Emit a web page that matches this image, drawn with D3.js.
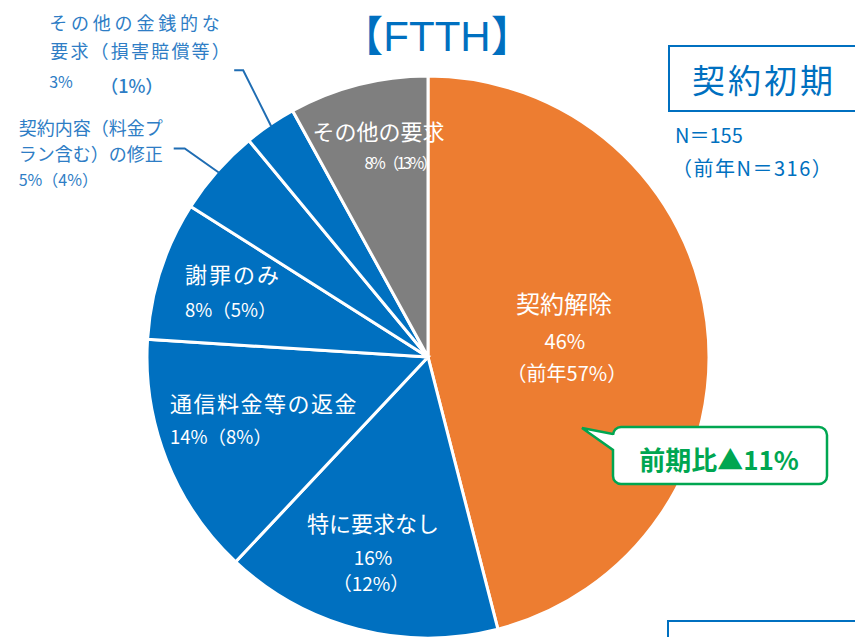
<!DOCTYPE html>
<html>
<head>
<meta charset="utf-8">
<script src="https://cdn.jsdelivr.net/npm/d3@7"></script>
<style>
  body { margin: 0; background: #fff; }
  svg { display: block; font-family: "Noto Sans CJK JP", "Noto Sans", sans-serif; }
</style>
</head>
<body>
<div class="js-pie"></div>
<script>
// data
const categories = [
  ["契約解除"],
  ["特に要求なし"],
  ["通信料金等の返金"],
  ["謝罪のみ"],
  ["契約内容（料金プ", "ラン含む）の修正"],
  ["その他の金銭的な", "要求（損害賠償等）"],
  ["その他の要求"]
];
const shares = [46, 16, 14, 8, 5, 3, 8];
const prevShares = [57, 12, 8, 5, 4, 1, 13];
const colors = ["#ED7D31", "#0070C0", "#0070C0", "#0070C0", "#0070C0", "#0070C0", "#7F7F7F"];

const title = "【FTTH】";
const period = "契約初期";
const nNow = 155, nPrev = 316;
const diffText = "前期比▲11%";

let width = 855, height = 637;
let cx = 428, cy = 357, radius = 281;

let svg = d3.select(".js-pie").append("svg")
    .attr("width", width)
    .attr("height", height);

let pie = d3.pie().sort(null).value(d => d);
let arc = d3.arc().innerRadius(0).outerRadius(radius);
let arcs = pie(shares);

let g = svg.append("g").attr("transform", "translate(" + cx + "," + cy + ")");

g.selectAll("path")
    .data(arcs)
    .join("path")
    .attr("fill", (d, i) => colors[i])
    .attr("stroke", "#fff")
    .attr("stroke-width", 3)
    .attr("d", arc);

// point on a ray at the middle of a slice
function polar(d, r) {
    let a = (d.startAngle + d.endAngle) / 2;
    return [r * Math.sin(a), -r * Math.cos(a)];
}

// inside labels: radius of anchor, and lines relative to it
let inner = [
  {i: 0, r: 137, lines: [
      {t: categories[0][0], size: 24, dx: 0, dy: -27, anchor: "middle"},
      {t: shares[0] + "%", size: 20, dx: 1, dy: 9, anchor: "middle"},
      {t: "（前年" + prevShares[0] + "%）", size: 20, dx: 3, dy: 41, anchor: "middle"}]},
  {i: 1, r: 205, lines: [
      {t: categories[1][0], size: 22, dx: -4, dy: -24, anchor: "middle"},
      {t: shares[1] + "%", size: 19, dx: -4, dy: 9, anchor: "middle"},
      {t: "（" + prevShares[1] + "%）", size: 19, dx: -6, dy: 35, anchor: "middle"}]},
  {i: 2, r: 171, lines: [
      {t: categories[2][0], size: 22, dx: -99, dy: -8, anchor: "start", ls: 1.5},
      {t: shares[2] + "%（" + prevShares[2] + "%）", size: 18.5, dx: -99, dy: 24, anchor: "start"}]},
  {i: 3, r: 204, lines: [
      {t: categories[3][0], size: 22, dx: -49, dy: -11, anchor: "start", ls: 2},
      {t: shares[3] + "%（" + prevShares[3] + "%）", size: 18.5, dx: -49, dy: 23, anchor: "start"}]},
  {i: 6, r: 223, lines: [
      {t: categories[6][0], size: 22, dx: 6, dy: -1, anchor: "middle"},
      {t: shares[6] + "%（" + prevShares[6] + "%）", size: 16, dx: -8, dy: 28, anchor: "start", ls: -2.5}]}
];

inner.forEach(lab => {
    let p = polar(arcs[lab.i], lab.r);
    lab.lines.forEach(l => {
        g.append("text")
            .attr("x", p[0] + l.dx)
            .attr("y", p[1] + l.dy)
            .attr("text-anchor", l.anchor)
            .attr("font-size", l.size)
            .attr("letter-spacing", l.ls || 0)
            .attr("fill", "#fff")
            .text(l.t);
    });
});

// outside labels with leader lines
let outer = [
  {i: 5, elbow: [-28, -56], tail: -9, lines: [
      {t: categories[5][0], size: 18, x: -194, y: -40, ls: 3.8},
      {t: categories[5][1], size: 18, x: -193, y: -12, ls: 2.2},
      {t: shares[5] + "%", size: 16, x: -194, y: 18},
      {t: "（" + prevShares[5] + "%）", size: 18, x: -143, y: 23, bold: true}]},
  {i: 4, elbow: [-34, -24], tail: -11, lines: [
      {t: categories[4][0], size: 18, x: -166, y: -14},
      {t: categories[4][1], size: 18, x: -166, y: 12},
      {t: shares[4] + "%（" + prevShares[4] + "%）", size: 16, x: -166, y: 37}]}
];

outer.forEach(lab => {
    let p = polar(arcs[lab.i], radius - 2);
    let e = [p[0] + lab.elbow[0], p[1] + lab.elbow[1]];
    g.append("polyline")
        .attr("points", [p, e, [e[0] + lab.tail, e[1]]].map(q => q.join(",")).join(" "))
        .attr("fill", "none")
        .attr("stroke", "#1F6DB3")
        .attr("stroke-width", 2);
    lab.lines.forEach(l => {
        g.append("text")
            .attr("x", e[0] + l.x)
            .attr("y", e[1] + l.y)
            .attr("font-size", l.size)
            .attr("letter-spacing", l.ls || 0)
            .attr("font-weight", l.bold ? 500 : 400)
            .attr("fill", "#2E7DC5")
            .text(l.t);
    });
});

// title
svg.append("text")
    .attr("x", 437).attr("y", 51)
    .attr("text-anchor", "middle")
    .attr("font-size", 42)
    .attr("font-family", "'Liberation Sans', 'Noto Sans CJK JP', sans-serif")
    .attr("fill", "#0070C0")
    .text(title);

// period box
svg.append("rect")
    .attr("x", 669).attr("y", 46)
    .attr("width", 200).attr("height", 65)
    .attr("fill", "#fff")
    .attr("stroke", "#0070C0")
    .attr("stroke-width", 2);
svg.append("text")
    .attr("x", 692).attr("y", 93)
    .attr("font-size", 33)
    .attr("letter-spacing", 3)
    .attr("fill", "#0070C0")
    .text(period);

svg.append("text")
    .attr("x", 675).attr("y", 143)
    .attr("font-size", 20)
    .attr("fill", "#0070C0")
    .text("N＝" + nNow);
svg.append("text")
    .attr("x", 672).attr("y", 176)
    .attr("font-size", 20)
    .attr("letter-spacing", 1.5)
    .attr("fill", "#0070C0")
    .text("（前年N＝" + nPrev + "）");

// callout
let bx = 613, by = 427, bw = 214, bh = 57, br = 8;
let cp = d3.path();
cp.moveTo(bx + br, by);
cp.lineTo(bx + bw - br, by);
cp.arcTo(bx + bw, by, bx + bw, by + br, br);
cp.lineTo(bx + bw, by + bh - br);
cp.arcTo(bx + bw, by + bh, bx + bw - br, by + bh, br);
cp.lineTo(bx + br, by + bh);
cp.arcTo(bx, by + bh, bx, by + bh - br, br);
cp.lineTo(bx, by + 23);
cp.lineTo(582, 428);
cp.lineTo(bx, by + 7);
cp.lineTo(bx, by + br);
cp.arcTo(bx, by, bx + br, by, br);
cp.closePath();
svg.append("path")
    .attr("d", cp.toString())
    .attr("fill", "#fff")
    .attr("stroke", "#00A651")
    .attr("stroke-width", 2.5);
svg.append("text")
    .attr("x", bx + bw / 2 - 1).attr("y", 470)
    .attr("text-anchor", "middle")
    .attr("font-size", 26)
    .attr("font-weight", 700)
    .attr("fill", "#00A651")
    .text(diffText);

// bottom box (cut off)
svg.append("rect")
    .attr("x", 668).attr("y", 621)
    .attr("width", 220).attr("height", 60)
    .attr("fill", "none")
    .attr("stroke", "#0070C0")
    .attr("stroke-width", 2);
</script>
</body>
</html>
